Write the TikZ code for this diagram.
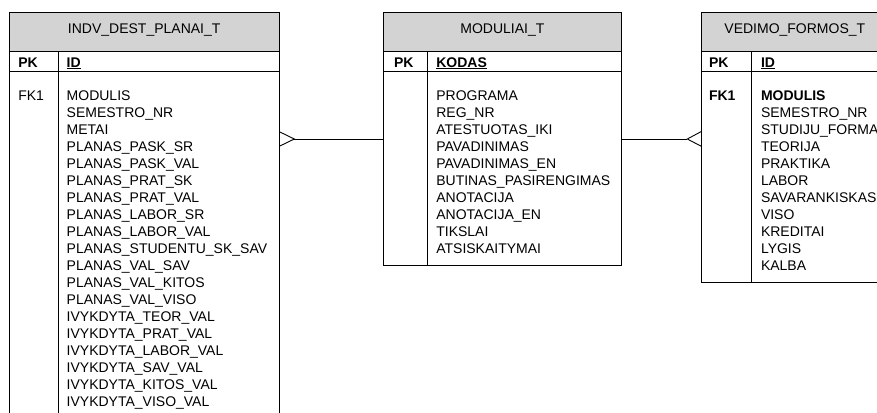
\documentclass[tikz,border=0pt]{standalone}
\usepackage{fontspec}
\setmainfont{Liberation Sans}
\definecolor{hdrgray}{RGB}{211,211,211}
\begin{document}
\begin{tikzpicture}[x=1pt,y=-1pt,
  every node/.style={inner sep=0pt,outer sep=0pt,font=\fontsize{14}{17}\selectfont},
  frame/.style={draw=black,line width=0.9pt,anchor=north west,rectangle},
  hdr/.style={frame,fill=hdrgray},
  title/.style={anchor=base},
  field/.style={anchor=base west},
  keyfld/.style={anchor=base west,font=\fontsize{14}{17}\selectfont\bfseries},
  rel/.style={draw=black,line width=0.9pt}]
\useasboundingbox (0,0) rectangle (877,412);
\clip (0,0) rectangle (877,412);

% ---------- INDV_DEST_PLANAI_T ----------
\node[frame,minimum width=270.3pt,minimum height=430pt] (t1) at (9,12.3) {};
\node[hdr,minimum width=270.3pt,minimum height=39.4pt] (t1h) at (9,12.3) {};
\node[frame,minimum width=270.3pt,minimum height=20pt] (t1k) at (9,51.7) {};
\coordinate (t1d) at (58.3,51.7);
\coordinate (t1e) at (58.3,450);
\draw[line width=0.9pt] (t1d) -- (t1e);
\node[title] (t1n) at (144.2,33.5) {INDV\_DEST\_PLANAI\_T};
\node[keyfld] (t1pk) at (18.3,67) {PK};
\node[keyfld] (t1id) at (66.7,67) {\underline{ID}};
\node[field] (t1fk) at (18.3,100) {FK1};
\foreach \t [count=\i from 0] in {MODULIS,SEMESTRO\_NR,METAI,PLANAS\_PASK\_SR,
  PLANAS\_PASK\_VAL,PLANAS\_PRAT\_SK,PLANAS\_PRAT\_VAL,PLANAS\_LABOR\_SR,
  PLANAS\_LABOR\_VAL,PLANAS\_STUDENTU\_SK\_SAV,PLANAS\_VAL\_SAV,PLANAS\_VAL\_KITOS,
  PLANAS\_VAL\_VISO,IVYKDYTA\_TEOR\_VAL,IVYKDYTA\_PRAT\_VAL,IVYKDYTA\_LABOR\_VAL,
  IVYKDYTA\_SAV\_VAL,IVYKDYTA\_KITOS\_VAL,IVYKDYTA\_VISO\_VAL}
  \node[field] (t1f\i) at (66.7,100+17*\i) {\t};

% ---------- MODULIAI_T ----------
\node[frame,minimum width=237.8pt,minimum height=253.4pt] (t2) at (383.5,12.3) {};
\node[hdr,minimum width=237.8pt,minimum height=39.4pt] (t2h) at (383.5,12.3) {};
\node[frame,minimum width=237.8pt,minimum height=20pt] (t2k) at (383.5,51.7) {};
\coordinate (t2d) at (427.3,51.7);
\draw[line width=0.9pt] (t2d) -- (t2d |- t2.south);
\node[title] (t2n) at (502.4,33.5) {MODULIAI\_T};
\node[keyfld] (t2pk) at (394,67) {PK};
\node[keyfld] (t2id) at (436.3,67) {\underline{KODAS}};
\foreach \t [count=\i from 0] in {PROGRAMA,REG\_NR,ATESTUOTAS\_IKI,PAVADINIMAS,
  PAVADINIMAS\_EN,BUTINAS\_PASIRENGIMAS,ANOTACIJA,ANOTACIJA\_EN,TIKSLAI,
  ATSISKAITYMAI}
  \node[field] (t2f\i) at (436.3,100+17*\i) {\t};

% ---------- VEDIMO_FORMOS_T ----------
\node[frame,minimum width=186.3pt,minimum height=270.4pt] (t3) at (701.7,12.3) {};
\node[hdr,minimum width=186.3pt,minimum height=39.4pt] (t3h) at (701.7,12.3) {};
\node[frame,minimum width=186.3pt,minimum height=20pt] (t3k) at (701.7,51.7) {};
\coordinate (t3d) at (751.7,51.7);
\draw[line width=0.9pt] (t3d) -- (t3d |- t3.south);
\node[title] (t3n) at (794.8,33.5) {VEDIMO\_FORMOS\_T};
\node[keyfld] (t3pk) at (709,67) {PK};
\node[keyfld] (t3id) at (761,67) {\underline{ID}};
\node[keyfld] (t3fk) at (709,100) {FK1};
\node[keyfld] (t3f0) at (761,100) {MODULIS};
\foreach \t [count=\i from 1] in {SEMESTRO\_NR,STUDIJU\_FORMA,TEORIJA,PRAKTIKA,
  LABOR,SAVARANKISKAS,VISO,KREDITAI,LYGIS,KALBA}
  \node[field] (t3f\i) at (761,100+17*\i) {\t};

% ---------- relationships (crow's foot on the many side) ----------
\coordinate (ry) at (0,139);
\coordinate (r1tip) at (294.3,139);
\coordinate (r1a) at (279.3,131.7);
\coordinate (r1b) at (279.3,146.3);
\draw[rel] (r1a) -- (r1tip) -- (r1b);
\draw[rel] (r1tip) -- (t2.west |- ry);

\coordinate (r2tip) at (687.3,139);
\coordinate (r2a) at (701.7,131.3);
\coordinate (r2b) at (701.7,146.5);
\draw[rel] (r2a) -- (r2tip) -- (r2b);
\draw[rel] (t2.east |- ry) -- (r2tip);
\end{tikzpicture}
\end{document}
